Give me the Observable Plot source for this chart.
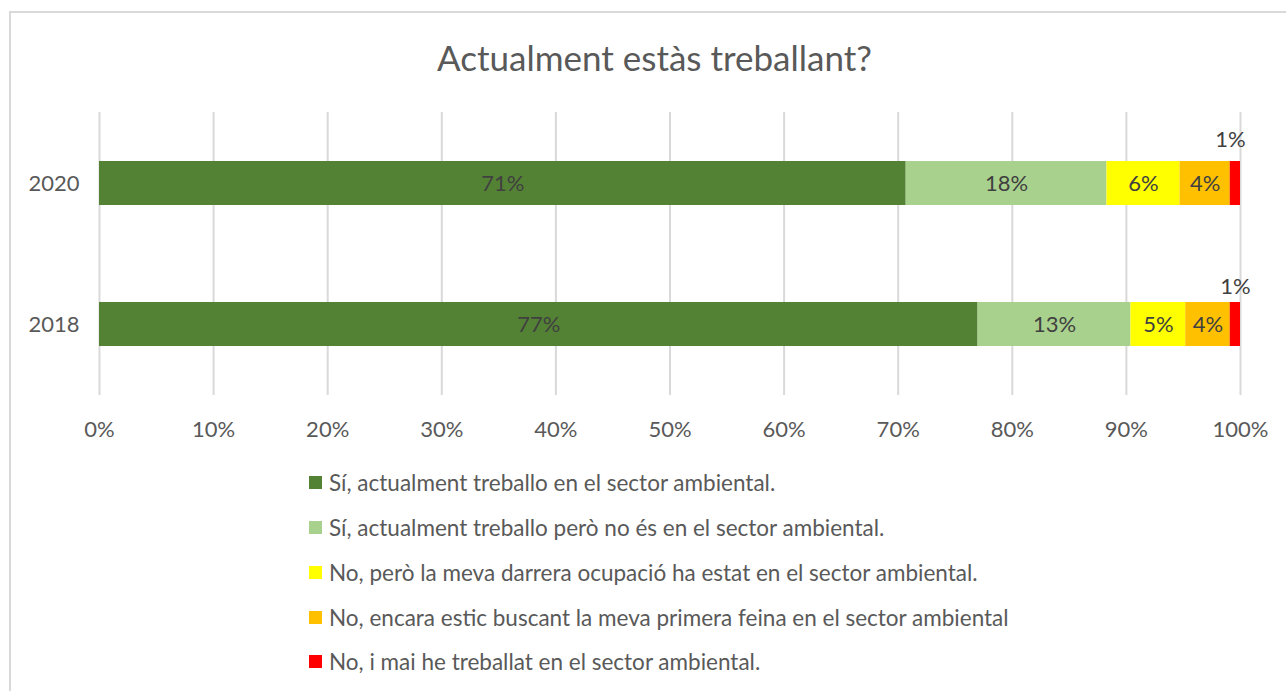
<!DOCTYPE html>
<html>
<head>
<meta charset="utf-8">
<script src="https://cdn.jsdelivr.net/npm/d3@7"></script>
<script src="https://cdn.jsdelivr.net/npm/@observablehq/plot@0.6"></script>
<style>
  html, body { margin: 0; padding: 0; background: #fff; }
  body { width: 1286px; height: 691px; overflow: hidden; position: relative; font-family: Lato, "Open Sans", sans-serif; }
  #frame { position: absolute; left: 9px; top: 11px; width: 1400px; height: 800px; border: 2px solid #d9d9d9; box-sizing: border-box; }
  #title { position: absolute; left: 0; top: 40px; width: 1309px; text-align: center; font-size: 35px; line-height: 35px; color: #595959; white-space: nowrap; }
  #chart { position: absolute; left: 0; top: 100px; }
  #legend { position: absolute; left: 309px; top: 460.6px; color: #595959; font-size: 22.5px; }
  .row { display: flex; align-items: center; height: 44.75px; white-space: nowrap; }
  .sw { width: 13px; height: 13px; margin-right: 7px; flex: none; }
</style>
</head>
<body>
<div id="frame"></div>
<div id="title">Actualment estàs treballant?</div>
<div id="chart"></div>
<div id="legend"></div>
<script>
// ---- data ----
const years = ["2020", "2018"];
const categories = [
  "Sí, actualment treballo en el sector ambiental.",
  "Sí, actualment treballo però no és en el sector ambiental.",
  "No, però la meva darrera ocupació ha estat en el sector ambiental.",
  "No, encara estic buscant la meva primera feina en el sector ambiental",
  "No, i mai he treballat en el sector ambiental."
];
const colors = ["#548235", "#A9D18E", "#FFFF00", "#FFC000", "#FF0000"];
const values2020 = [70.7, 17.6, 6.4, 4.4, 0.9];
const values2018 = [77.0, 13.4, 4.8, 3.9, 0.9];
const xTicks = [0, 10, 20, 30, 40, 50, 60, 70, 80, 90, 100];

// ---- long table ----
const series = {"2020": values2020, "2018": values2018};
const data = [];
for (const y of years) {
  categories.forEach((c, i) => data.push({year: y, cat: c, value: series[y][i]}));
}
const last = categories[categories.length - 1];
const pct = d => Math.round(d.value) + "%";

const plot = Plot.plot({
  width: 1286,
  height: 350,
  marginLeft: 99,
  marginRight: 46,
  marginTop: 12,
  marginBottom: 55,
  style: {fontFamily: "Lato, 'Open Sans', sans-serif", fontSize: "22px", color: "#595959", background: "transparent"},
  x: {domain: [0, 100], label: null},
  y: {domain: years, paddingInner: 0.69, paddingOuter: 0.345, label: null},
  color: {domain: categories, range: colors},
  marks: [
    Plot.gridX(xTicks, {stroke: "#d9d9d9", strokeOpacity: 1, strokeWidth: 2}),
    Plot.barX(data, Plot.stackX({x: "value", y: "year", fill: "cat", inset: 0})),
    Plot.text(data, Plot.stackX({x: "value", y: "year", text: d => d.cat === last ? null : pct(d), fill: "#404040", fontSize: 22})),
    Plot.text(data, Plot.stackX({x: "value", y: "year", text: d => (d.cat === last && d.year === "2020") ? pct(d) : null, fill: "#404040", fontSize: 22, dy: -44, dx: -5})),
    Plot.text(data, Plot.stackX({x: "value", y: "year", text: d => (d.cat === last && d.year === "2018") ? pct(d) : null, fill: "#404040", fontSize: 22, dy: -38, dx: 0})),
    Plot.axisX({ticks: xTicks, tickSize: 0, tickPadding: 26, tickFormat: d => d + "%", label: null, fill: "#595959", fontSize: 22}),
    Plot.axisY({tickSize: 0, tickPadding: 20, label: null, fill: "#595959", fontSize: 22})
  ]
});
document.getElementById("chart").appendChild(plot);

const legend = document.getElementById("legend");
categories.forEach((c, i) => {
  const row = document.createElement("div");
  row.className = "row";
  const sw = document.createElement("span");
  sw.className = "sw";
  sw.style.background = colors[i];
  const t = document.createElement("span");
  t.textContent = c;
  row.appendChild(sw);
  row.appendChild(t);
  legend.appendChild(row);
});
</script>
</body>
</html>
